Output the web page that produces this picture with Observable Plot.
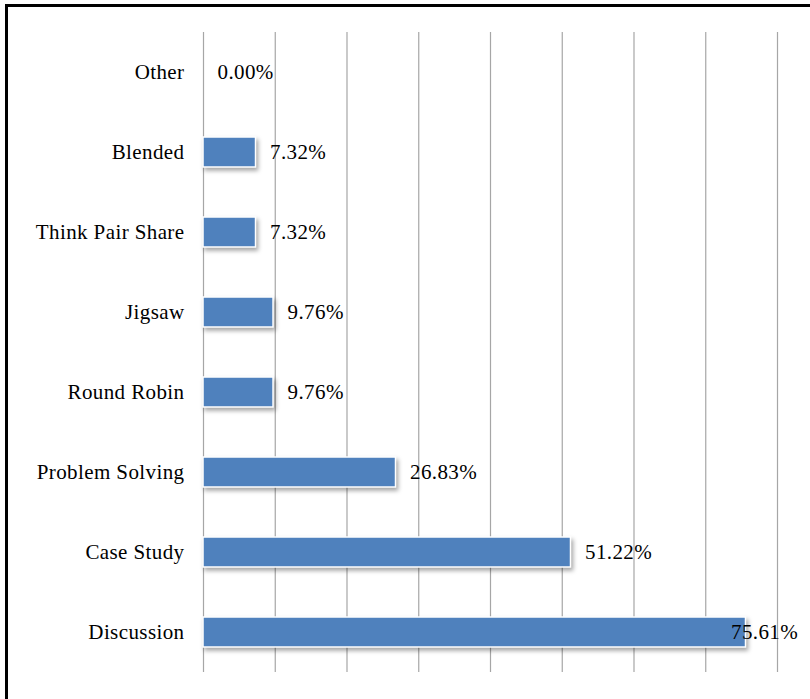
<!DOCTYPE html>
<html>
<head>
<meta charset="utf-8">
<script src="https://cdn.jsdelivr.net/npm/d3@7"></script>
<script src="https://cdn.jsdelivr.net/npm/@observablehq/plot@0.6"></script>
<style>
  html, body { margin: 0; padding: 0; background: #fff; overflow: hidden; }
  #wrap { position: relative; width: 810px; height: 699px; }
  #frame { position: absolute; left: 5px; top: 4px; width: 820px; height: 720px; border: 3px solid #000; box-sizing: border-box; pointer-events: none; }
  #chart { position: absolute; left: 0; top: 0; }
  .bars rect { filter: drop-shadow(2px 3px 2px rgba(0,0,0,0.35)); }
</style>
</head>
<body>
<div id="wrap">
  <div id="chart"></div>
  <div id="frame"></div>
</div>
<script>
const categories = ["Other", "Blended", "Think Pair Share", "Jigsaw", "Round Robin", "Problem Solving", "Case Study", "Discussion"];
const values = [0.00, 7.32, 7.32, 9.76, 9.76, 26.83, 51.22, 75.61];
const gridTicks = [0, 10, 20, 30, 40, 50, 60, 70, 80];

const data = categories.map((c, i) => ({category: c, value: values[i]}));
const fmt = v => v.toFixed(2) + "%";
const serif = "Liberation Serif, DejaVu Serif, serif";

const chart = Plot.plot({
  width: 810,
  height: 699,
  marginLeft: 203,
  marginRight: 33,
  marginTop: 32,
  marginBottom: 27,
  style: { background: "transparent" },
  x: { domain: [0, 80], axis: null },
  y: { domain: categories, paddingInner: 0.62, paddingOuter: 0.31, axis: null },
  marks: [
    Plot.ruleX(gridTicks, { stroke: "#a6a6a6", strokeWidth: 1.2, y1: null, y2: null }),
    Plot.barX(data, { x: "value", y: "category", fill: "#4F81BD", stroke: "#ffffff", strokeWidth: 1.5, className: "bars" }),
    Plot.text(data.filter(d => d.value < 70), { x: "value", y: "category", text: d => fmt(d.value), textAnchor: "start", dx: 14, fontSize: 21, fill: "#000" }),
    Plot.text(data.filter(d => d.value >= 70), { x: "value", y: "category", text: d => fmt(d.value), textAnchor: "start", dx: -15, fontSize: 21, fill: "#000" }),
    Plot.axisY({ domain: categories, tickSize: 0, tickPadding: 19, fontSize: 21, fill: "#000", label: null })
  ]
});
chart.setAttribute("font-family", serif);
d3.select(chart).selectAll("g, text").attr("font-family", serif).style("font-family", serif);
d3.select(chart).selectAll("text").style("letter-spacing", "0.4px");
document.getElementById("chart").appendChild(chart);
</script>
</body>
</html>
